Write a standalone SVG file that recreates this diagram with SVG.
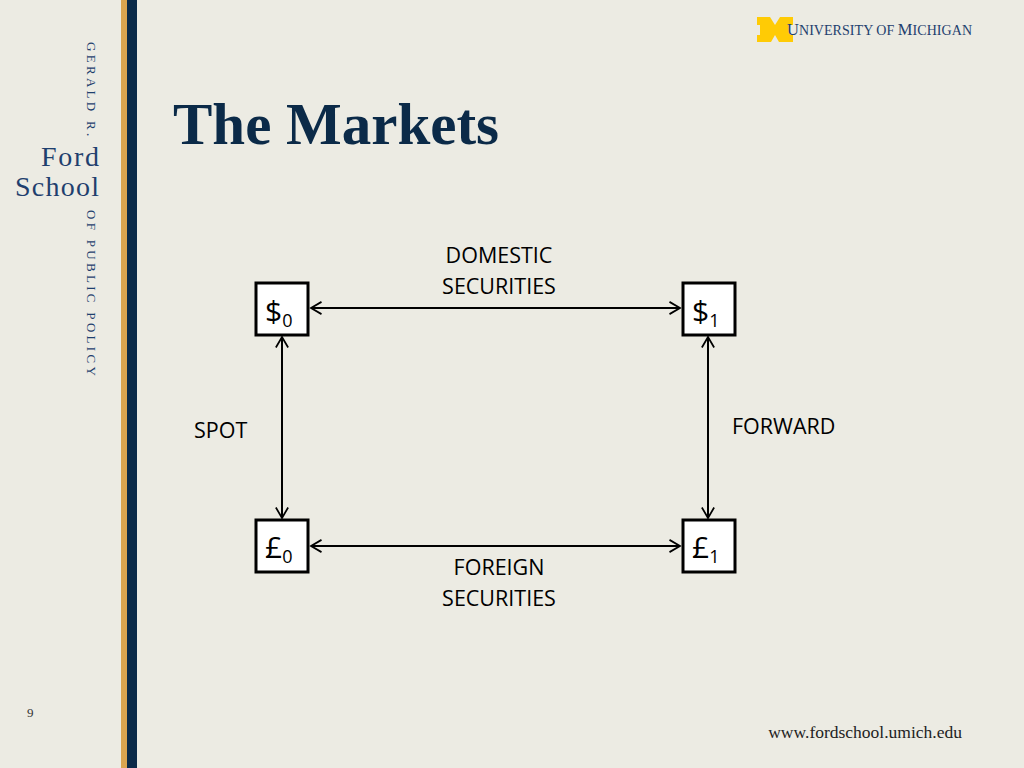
<svg xmlns="http://www.w3.org/2000/svg" width="1024" height="768" viewBox="0 0 1024 768">
<defs>
<style>
.lbl{font-family:"Open Sans","Liberation Sans",sans-serif;font-size:21.5px;fill:#000}
.box{fill:#fff;stroke:#000;stroke-width:3}
.node{font-family:"Open Sans","Liberation Sans",sans-serif;font-size:30px;fill:#000}
.sub{font-size:18px}
.ser{font-family:"Liberation Serif",serif;fill:#1f3f6e}
.edge{stroke:#000;stroke-width:2;fill:none;marker-start:url(#ah);marker-end:url(#ah)}
</style>
<marker id="ah" viewBox="0 0 16 16" refX="14" refY="8" markerWidth="14" markerHeight="14" orient="auto-start-reverse" markerUnits="userSpaceOnUse"><path d="M2 1 L14 8 L2 15" fill="none" stroke="#000" stroke-width="2"/></marker>
</defs>
<rect width="1024" height="768" fill="#ecebe3"/>
<rect x="121" y="0" width="6" height="768" fill="#dba54f"/>
<rect x="127" y="0" width="10" height="768" fill="#0b2a48"/>
<text class="ser" font-size="13" letter-spacing="3.3" transform="translate(87,42) rotate(90)">GERALD R.</text>
<text class="ser" font-size="28" x="99" y="166" text-anchor="end" textLength="58">Ford</text>
<text class="ser" font-size="28" x="99" y="196" text-anchor="end" textLength="84">School</text>
<text class="ser" font-size="13" letter-spacing="3.3" transform="translate(87,210) rotate(90)">OF PUBLIC POLICY</text>
<polygon points="757,17 770,17 775,25 780,17 793,17 793,25 790,25 790,35 793,35 793,42 779,42 775,35 771,42 757,42 757,35 760,35 760,25 757,25" fill="#ffcb05"/>
<text class="ser" x="787" y="35" font-size="14" fill="#1f3f6e" textLength="185"><tspan font-size="16.5">U</tspan>NIVERSITY OF <tspan font-size="16.5">M</tspan>ICHIGAN</text>
<text x="173" y="144" font-family="Liberation Serif,serif" font-weight="bold" font-size="59" fill="#0b2a48">The Markets</text>
<text x="27" y="717" font-family="Liberation Serif,serif" font-size="13" fill="#333">9</text>
<text x="962" y="738" text-anchor="end" font-family="Liberation Serif,serif" font-size="17.5" fill="#222">www.fordschool.umich.edu</text>
<g id="connectors">
<line class="edge" x1="311" y1="308" x2="680" y2="308"/>
<line class="edge" x1="311" y1="546" x2="680" y2="546"/>
<line class="edge" x1="282" y1="337" x2="282" y2="518"/>
<line class="edge" x1="708" y1="337" x2="708" y2="518"/>
</g>
<g id="n-s0"><rect class="box" x="256" y="283" width="52" height="52"/><text class="node" x="265" y="322">$<tspan class="sub" dy="5">0</tspan></text></g>
<g id="n-s1"><rect class="box" x="683" y="283" width="52" height="52"/><text class="node" x="692" y="322">$<tspan class="sub" dy="5">1</tspan></text></g>
<g id="n-p0"><rect class="box" x="256" y="520" width="52" height="52"/><text class="node" x="265" y="558">£<tspan class="sub" dy="5">0</tspan></text></g>
<g id="n-p1"><rect class="box" x="683" y="520" width="52" height="52"/><text class="node" x="692" y="558">£<tspan class="sub" dy="5">1</tspan></text></g>
<text class="lbl" x="499" y="263" text-anchor="middle">DOMESTIC</text>
<text class="lbl" x="499" y="294" text-anchor="middle">SECURITIES</text>
<text class="lbl" x="499" y="575" text-anchor="middle">FOREIGN</text>
<text class="lbl" x="499" y="606" text-anchor="middle">SECURITIES</text>
<text class="lbl" x="194" y="438">SPOT</text>
<text class="lbl" x="732" y="434">FORWARD</text>
</svg>
